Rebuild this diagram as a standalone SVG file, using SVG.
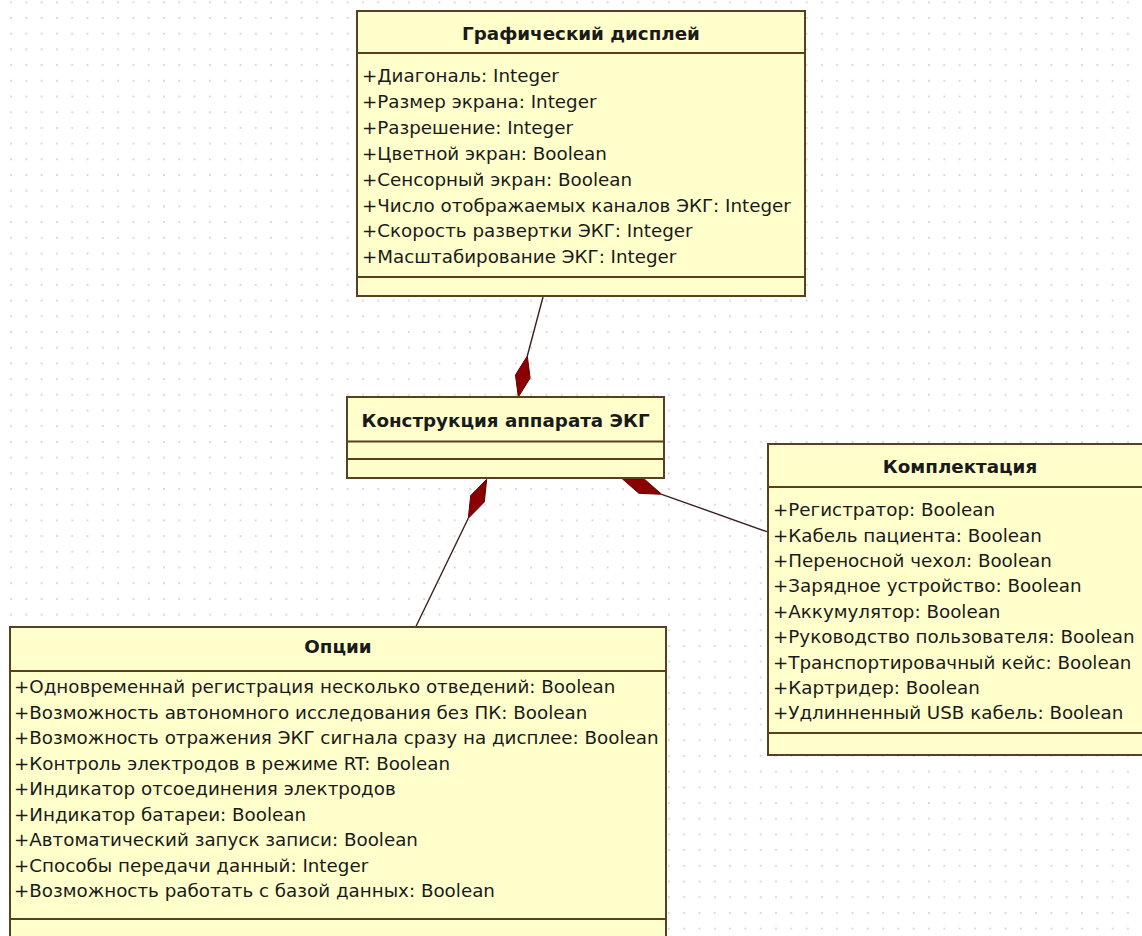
<svg xmlns="http://www.w3.org/2000/svg" width="1142" height="936" viewBox="0 0 1142 936">
  <style>
    .box { fill: #ffffcc; stroke: #5a4020; stroke-width: 2; }
    .sep { stroke: #5a4020; stroke-width: 2; }
    .title { font-family: "DejaVu Sans", "Liberation Sans", sans-serif; font-size: 18.3px; font-weight: bold; fill: #1a1a1a; text-anchor: middle; }
    .attr { font-family: "DejaVu Sans", "Liberation Sans", sans-serif; font-size: 18.3px; fill: #1a1a1a; }
    .link { fill: none; stroke: #3a2020; stroke-width: 1.4; }
    .diamond { fill: #8b0000; stroke: #600000; stroke-width: 1; }
  </style>
  <defs>
    <pattern id="grid" x="11" y="2.3" width="15.3" height="15.7" patternUnits="userSpaceOnUse">
      <circle cx="0" cy="0" r="1.1" fill="#d2d2d2"/>
      <circle cx="15.3" cy="0" r="1.1" fill="#d2d2d2"/>
      <circle cx="0" cy="15.7" r="1.1" fill="#d2d2d2"/>
      <circle cx="15.3" cy="15.7" r="1.1" fill="#d2d2d2"/>
    </pattern>
  </defs>

  <rect x="0" y="0" width="1142" height="936" fill="#ffffff"/>
  <rect x="0" y="0" width="1142" height="936" fill="url(#grid)"/>

  <!-- composition links (drawn beneath the classes) -->
  <g id="connectors">
    <line class="link" x1="543" y1="297" x2="527.3" y2="356"/>
    <polygon class="diamond" points="518.3,397 515.5,374.9 527.3,356 530.1,378.1"/>
    <line class="link" x1="415.7" y1="627" x2="468.3" y2="518.3"/>
    <polygon class="diamond" points="486.7,479.3 484.3,502 468.3,518.3 470.7,495.6"/>
    <line class="link" x1="767" y1="531.7" x2="661.7" y2="494.3"/>
    <polygon class="diamond" points="621.7,478.3 644.5,479.3 661.7,494.3 638.9,493.3"/>
  </g>

  <g id="class-display">
    <rect class="box" x="357" y="11" width="448" height="285"/>
    <line class="sep" x1="357" y1="53" x2="805" y2="53"/>
    <line class="sep" x1="357" y1="277" x2="805" y2="277"/>
    <text class="title" x="581" y="40">Графический дисплей</text>
    <text class="attr" x="362" y="82">+Диагональ: Integer</text>
    <text class="attr" x="362" y="108">+Размер экрана: Integer</text>
    <text class="attr" x="362" y="134">+Разрешение: Integer</text>
    <text class="attr" x="362" y="160">+Цветной экран: Boolean</text>
    <text class="attr" x="362" y="185.5">+Сенсорный экран: Boolean</text>
    <text class="attr" x="362" y="211.5">+Число отображаемых каналов ЭКГ: Integer</text>
    <text class="attr" x="362" y="237">+Скорость развертки ЭКГ: Integer</text>
    <text class="attr" x="362" y="263">+Масштабирование ЭКГ: Integer</text>
  </g>

  <g id="class-design">
    <rect class="box" x="347" y="397" width="317" height="81"/>
    <line class="sep" x1="347" y1="441.5" x2="664" y2="441.5"/>
    <line class="sep" x1="347" y1="459" x2="664" y2="459"/>
    <text class="title" x="505.5" y="427">Конструкция аппарата ЭКГ</text>
  </g>

  <g id="class-kit">
    <rect class="box" x="768" y="444" width="384" height="311"/>
    <line class="sep" x1="768" y1="487" x2="1152" y2="487"/>
    <line class="sep" x1="768" y1="733" x2="1152" y2="733"/>
    <text class="title" x="960" y="473">Комплектация</text>
    <text class="attr" x="773" y="516">+Регистратор: Boolean</text>
    <text class="attr" x="773" y="541.5">+Кабель пациента: Boolean</text>
    <text class="attr" x="773" y="567">+Переносной чехол: Boolean</text>
    <text class="attr" x="773" y="592">+Зарядное устройство: Boolean</text>
    <text class="attr" x="773" y="617.5">+Аккумулятор: Boolean</text>
    <text class="attr" x="773" y="643">+Руководство пользователя: Boolean</text>
    <text class="attr" x="773" y="668.5">+Транспортировачный кейс: Boolean</text>
    <text class="attr" x="773" y="694">+Картридер: Boolean</text>
    <text class="attr" x="773" y="719">+Удлинненный USB кабель: Boolean</text>
  </g>

  <g id="class-options">
    <rect class="box" x="10" y="627" width="656" height="315"/>
    <line class="sep" x1="10" y1="671" x2="666" y2="671"/>
    <line class="sep" x1="10" y1="919" x2="666" y2="919"/>
    <text class="title" x="338" y="653">Опции</text>
    <text class="attr" x="14" y="693">+Одновременнай регистрация несколько отведений: Boolean</text>
    <text class="attr" x="14" y="718.5">+Возможность автономного исследования без ПК: Boolean</text>
    <text class="attr" x="14" y="744">+Возможность отражения ЭКГ сигнала сразу на дисплее: Boolean</text>
    <text class="attr" x="14" y="769.5">+Контроль электродов в режиме RT: Boolean</text>
    <text class="attr" x="14" y="795">+Индикатор отсоединения электродов</text>
    <text class="attr" x="14" y="820.5">+Индикатор батареи: Boolean</text>
    <text class="attr" x="14" y="846">+Автоматический запуск записи: Boolean</text>
    <text class="attr" x="14" y="871.5">+Способы передачи данный: Integer</text>
    <text class="attr" x="14" y="897">+Возможность работать с базой данных: Boolean</text>
  </g>
</svg>
